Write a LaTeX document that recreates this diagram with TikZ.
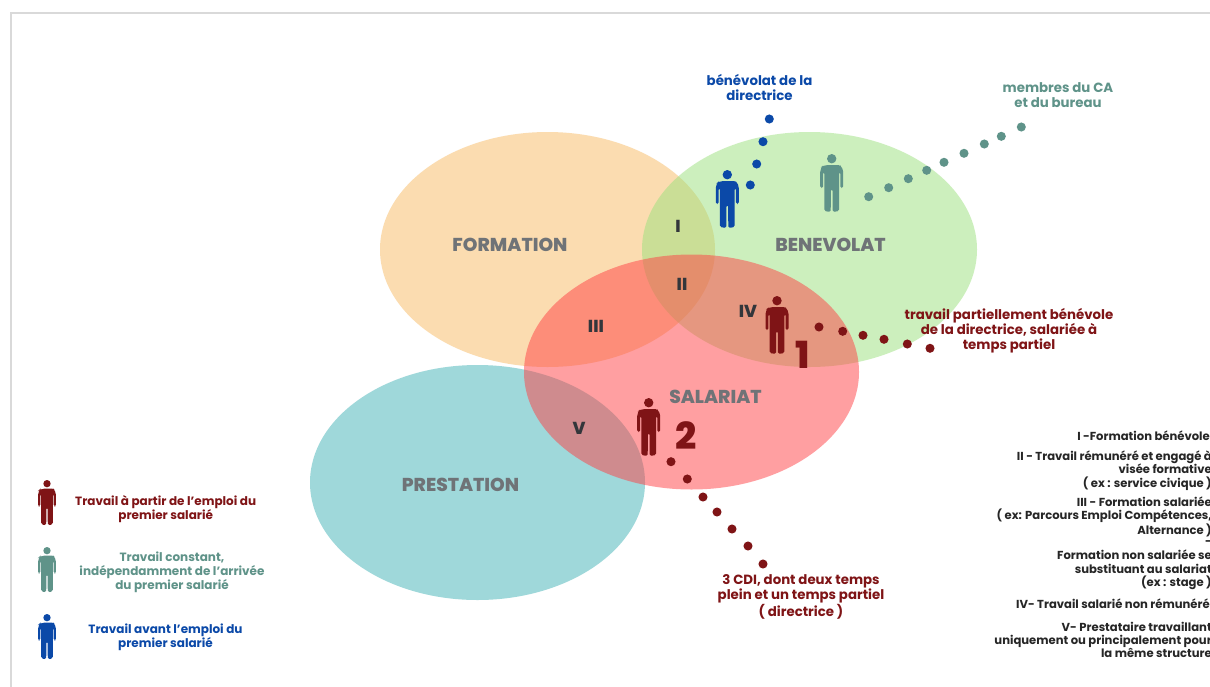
\documentclass[tikz,border=0pt]{standalone}
\usepackage{fontspec}
\setmainfont{Poppins}
\newfontfamily\headfont{Poppins ExtraBold}
\usetikzlibrary{shapes.geometric}

\definecolor{redD}{HTML}{7F1416}
\definecolor{tealD}{HTML}{5F9389}
\definecolor{blueD}{HTML}{0B49A8}
\definecolor{greyD}{HTML}{6F7377}
\definecolor{inkD}{HTML}{33363B}
\definecolor{formationC}{HTML}{FBDCB0}
\definecolor{benevolatC}{HTML}{9BE17D}
\definecolor{salariatC}{HTML}{FF4044}
\definecolor{prestationC}{HTML}{9FD8DA}

\begin{document}
\begin{tikzpicture}[
    x=0.75pt, y=-0.75pt,
    zone/.style={
        ellipse, minimum width=251.25pt, minimum height=176.25pt,
        inner sep=0pt, draw=none
    },
    zonetext/.style={
        font=\headfont\fontsize{14}{16}\selectfont, text=greyD, inner sep=0pt
    },
    roman/.style={
        font=\headfont\fontsize{13}{15}\selectfont, text=inkD, inner sep=0pt
    },
    bignum/.style={
        font=\headfont\fontsize{28}{30}\selectfont, text=redD, inner sep=0pt
    },
    note/.style={
        align=center, inner sep=0pt, font=\bfseries\fontsize{10}{11.2}\selectfont
    },
    legendtext/.style={
        align=center, inner sep=0pt, font=\bfseries\fontsize{9}{10.4}\selectfont
    },
    gloss/.style={
        align=right, inner sep=0pt, anchor=east, text=black!85,
        font=\bfseries\fontsize{8.7}{10}\selectfont
    },
    spot/.style={circle, inner sep=0pt, minimum size=6.8pt},
    pics/person/.style={
        code={
            \fill[pic actions] (0,4.7) circle (4.7);
            \fill[pic actions, rounded corners=1.2]
                (-8,11) -- (8,11) [rounded corners=3] -- (11.5,14)
                [rounded corners=1.2] -- (11.5,34) -- (8.6,34) -- (8.6,18)
                -- (7.4,18) -- (7.4,57) -- (1,58) -- (0.8,35) -- (-0.8,35)
                -- (-1,58) -- (-7.4,57) -- (-7.4,18) -- (-8.6,18) -- (-8.6,34)
                -- (-11.5,34) [rounded corners=3] -- (-11.5,14) -- cycle;
        }
    }
]

\clip (0,0) rectangle (1210,686);
\fill[white] (0,0) rectangle (1210,686);
\draw[black!15, line width=1.5pt] (11,13) rectangle (1300,760);

% --- Zones ---
\node[zone, fill=formationC] (formation) at (547.5,249.5) {};
\node[zone, fill=benevolatC, fill opacity=0.5] (benevolat) at (809.5,249.5) {};
\node[zone, fill=prestationC] (prestation) at (477.5,482.5) {};
\node[zone, fill=salariatC, fill opacity=0.5] (salariat) at (691.5,372) {};

\node[zonetext] (formationT) at (510,245) {FORMATION};
\node[zonetext] (benevolatT) at (830.5,245) {BENEVOLAT};
\node[zonetext] (salariatT) at (715.5,397) {SALARIAT};
\node[zonetext] (prestationT) at (460.5,485) {PRESTATION};

\node[roman] (romI) at (678,226) {I};
\node[roman] (romII) at (682,284) {II};
\node[roman] (romIII) at (596,326) {III};
\node[roman] (romIV) at (748,311) {IV};
\node[roman] (romV) at (579,428) {V};

\node[bignum] (numA) at (803,355) {1};
\node[bignum] (numB) at (686,436) {2};

% --- People ---
\pic[fill=blueD] (manBlue) at (727.3,170) {person};
\pic[fill=tealD] (manTeal) at (831.7,154) {person};
\pic[fill=redD] (manRedA) at (777,296) {person};
\pic[fill=redD] (manRedB) at (648.7,398) {person};

\pic[fill=redD, scale=0.78] (keyRed) at (47,480) {person};
\pic[fill=tealD, scale=0.78] (keyTeal) at (47,547) {person};
\pic[fill=blueD, scale=0.78] (keyBlue) at (47,614) {person};

% --- Dotted trails ---
\foreach \px/\py [count=\i] in {750.3/185, 756.7/164, 763/141.7, 769.3/119}
    \node[spot, fill=blueD] (dotBlue\i) at (\px,\py) {};
\foreach \px/\py [count=\i] in {868.7/196.7, 888.7/187.7, 908.3/178.7, 926.7/170.3,
    944/162.3, 964/153.3, 984.3/144, 1001.3/136.3, 1021.3/127}
    \node[spot, fill=tealD] (dotTeal\i) at (\px,\py) {};
\foreach \px/\py [count=\i] in {819/327, 842.7/331.3, 863/335.3, 884/339.3,
    907.3/344, 930/348.3}
    \node[spot, fill=redD] (dotRedA\i) at (\px,\py) {};
\foreach \px/\py [count=\i] in {671/461.7, 687.3/479, 703/497, 717/512,
    732/529, 748/546, 763/564}
    \node[spot, fill=redD] (dotRedB\i) at (\px,\py) {};

% --- Notes ---
\node[note, text=blueD] (noteBlue) at (759.5,87.5) {bénévolat de la\\directrice};
\node[note, text=tealD] (noteTeal) at (1058,95.5) {membres du CA\\et du bureau};
\node[note, text=redD] (noteRedA) at (1009,331)
    {travail partiellement bénévole\\de la directrice, salariée à\\temps partiel};
\node[note, text=redD] (noteRedB) at (801,597)
    {3 CDI, dont deux temps\\plein et un temps partiel\\( directrice )};

% --- Legend ---
\node[legendtext, text=redD] (keyRedT) at (165.7,509)
    {Travail à partir de l'emploi du\\premier salarié};
\node[legendtext, text=tealD] (keyTealT) at (172,572)
    {Travail constant,\\indépendamment de l'arrivée\\du premier salarié};
\node[legendtext, text=blueD] (keyBlueT) at (165.5,637)
    {Travail avant l'emploi du\\premier salarié};

% --- Glossary ---
\node[gloss] (glossI) at (1210,436) {I -Formation bénévole};
\node[gloss] (glossII) at (1212,470.5)
    {II - Travail rémunéré et engagé à\\visée formative\\( ex : service civique )};
\node[gloss] (glossIII) at (1212,517)
    {III - Formation salariée\\( ex: Parcours Emploi Compétences,\\Alternance )};
\node[gloss] (glossDash) at (1212,543) {-};
\node[gloss] (glossStage) at (1212,570)
    {Formation non salariée se\\substituant au salariat\\(ex : stage )};
\node[gloss] (glossIV) at (1210,604) {IV- Travail salarié non rémunéré};
\node[gloss] (glossV) at (1212,640)
    {V-  Prestataire travaillant\\uniquement ou principalement pour\\la même structure};

\end{tikzpicture}
\end{document}
